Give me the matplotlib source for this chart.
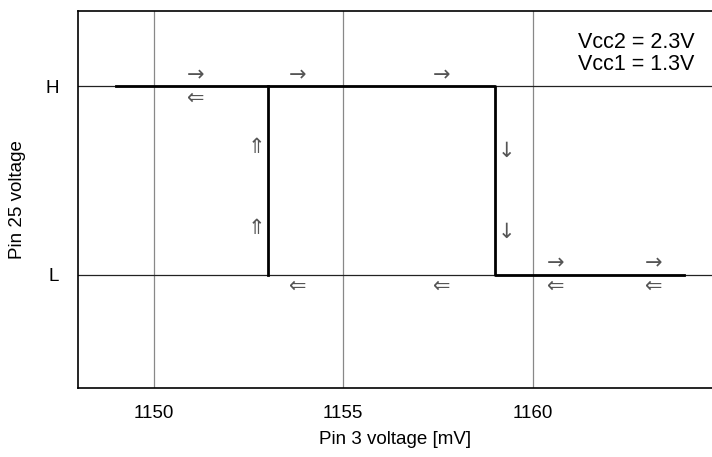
import matplotlib
matplotlib.use('Agg')
import matplotlib.pyplot as plt

plt.rcParams['font.family'] = ['Liberation Sans', 'DejaVu Sans']

# hysteresis loop (x in mV, y: 0 = L, 1 = H)
up_x = [1149, 1159, 1159, 1164]
up_y = [1, 1, 0, 0]
rise_x = [1153, 1153]
rise_y = [0, 1]

# direction markers
arrow_x = [1151.1, 1153.8, 1157.6, 1151.1, 1153.8, 1157.6, 1160.6, 1163.2, 1160.6, 1163.2,
           1152.7, 1152.7, 1159.3, 1159.3]
arrow_y = [1.06, 1.06, 1.06, 0.94, -0.06, -0.06, 0.06, 0.06, -0.06, -0.06,
           0.68, 0.25, 0.66, 0.23]
arrow_s = ['→', '→', '→', '⇐', '⇐', '⇐', '→', '→', '⇐', '⇐',
           '⇑', '⇑', '↓', '↓']

fig = plt.figure(figsize=(7.12, 4.57), dpi=100)
ax = fig.add_axes([0.1096, 0.151, 0.8904, 0.825])

ax.set_xlim(1148, 1164.73)
ax.set_ylim(-0.6, 1.4)

for v in [1150, 1155, 1160]:
    ax.axvline(v, color='#888888', lw=0.9, zorder=1)
for v in [0, 1]:
    ax.axhline(v, color='#222222', lw=0.9, zorder=1)

ax.plot(up_x, up_y, color='black', lw=2, zorder=3)
ax.plot(rise_x, rise_y, color='black', lw=2, zorder=3)

for x, y, s in zip(arrow_x, arrow_y, arrow_s):
    ax.text(x, y, s, ha='center', va='center', fontsize=15, color='#555555',
            family=['DejaVu Sans'])

ax.text(0.972, 0.945, 'Vcc2 = 2.3V\nVcc1 = 1.3V', transform=ax.transAxes,
        ha='right', va='top', fontsize=15.5, linespacing=1.05)

ax.set_xticks([1150, 1155, 1160])
ax.set_yticks([0, 1])
ax.set_yticklabels(['L', 'H'])
ax.tick_params(length=0, labelsize=13.5, pad=12)
ax.tick_params(axis='y', pad=14)

ax.spines['right'].set_visible(False)
for s in ['left', 'top', 'bottom']:
    ax.spines[s].set_linewidth(1.2)

ax.set_xlabel('Pin 3 voltage [mV]', fontsize=13.5, labelpad=7)
ax.set_ylabel('Pin 25 voltage', fontsize=13.5, labelpad=14)

fig.savefig('out.png', dpi=100)
